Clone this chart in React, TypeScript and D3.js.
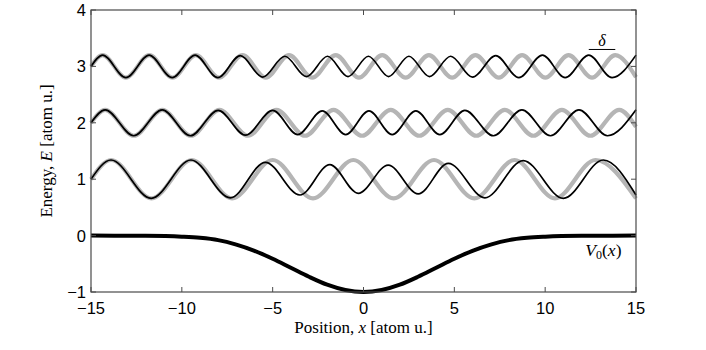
import React from 'react';
import * as d3 from 'd3';

// values
const xTicks = [-15, -10, -5, 0, 5, 10, 15];
const yTicks = [-1, 0, 1, 2, 3, 4];

// potential well V0(x)
const potX = [-15, -12, -10, -9, -8, -7, -6, -5, -4, -3, -2, -1, 0, 1, 2, 3, 4, 5, 6, 7, 8, 9, 10, 12, 15];
const potV = [0, -0.004, -0.02, -0.04, -0.08, -0.16, -0.27, -0.41, -0.57, -0.73, -0.87, -0.965, -1,
  -0.965, -0.87, -0.73, -0.57, -0.41, -0.27, -0.16, -0.08, -0.04, -0.02, -0.004, 0];

// free waves (grey): start, peaks/troughs, end
const freeX1 = [-15, -13.89, -11.67, -9.45, -7.23, -5.0, -2.78, -0.56, 1.66, 3.88, 6.1, 8.32, 10.54, 12.77, 15];
const freeY1 = [1, 1.34, 0.66, 1.34, 0.66, 1.34, 0.66, 1.34, 0.66, 1.34, 0.66, 1.34, 0.66, 1.34, 0.66];
const freeX2 = [-15, -14.22, -12.64, -11.07, -9.5, -7.93, -6.36, -4.79, -3.22, -1.65, -0.08, 1.5, 3.07, 4.64, 6.21, 7.78, 9.35, 10.92, 12.49, 14.07, 15];
const freeY2 = [2, 2.23, 1.77, 2.23, 1.77, 2.23, 1.77, 2.23, 1.77, 2.23, 1.77, 2.23, 1.77, 2.23, 1.77, 2.23, 1.77, 2.23, 1.77, 2.23, 1.93];
const freeX3 = [-15, -14.36, -13.08, -11.79, -10.51, -9.23, -7.95, -6.66, -5.38, -4.1, -2.82, -1.53, -0.25, 1.03, 2.32, 3.6, 4.88, 6.16, 7.45, 8.73, 10.01, 11.29, 12.58, 13.86, 15];
const freeY3 = [3, 3.2, 2.8, 3.2, 2.8, 3.2, 2.8, 3.2, 2.8, 3.2, 2.8, 3.2, 2.8, 3.2, 2.8, 3.2, 2.8, 3.2, 2.8, 3.2, 2.8, 3.2, 2.8, 3.2, 2.81];

// waves in the potential (black)
const waveX1 = [-15, -13.9, -11.69, -9.5, -7.33, -5.4, -3.5, -1.85, -0.29, 1.36, 3.01, 4.67, 6.68, 8.79, 11.0, 13.2, 15];
const waveY1 = [1, 1.34, 0.66, 1.34, 0.67, 1.3, 0.72, 1.26, 0.75, 1.25, 0.74, 1.28, 0.67, 1.33, 0.66, 1.34, 0.72];
const waveX2 = [-15, -14.22, -12.65, -11.08, -9.53, -8.0, -6.5, -5.0, -3.62, -2.27, -0.98, 0.3, 1.58, 2.88, 4.2, 5.58, 7.15, 8.72, 10.29, 11.86, 13.43, 15];
const waveY2 = [2, 2.23, 1.77, 2.23, 1.77, 2.22, 1.78, 2.22, 1.79, 2.21, 1.79, 2.21, 1.79, 2.21, 1.79, 2.22, 1.77, 2.23, 1.77, 2.23, 1.77, 2.23];
const waveX3 = [-15, -14.36, -13.08, -11.8, -10.53, -9.27, -8.02, -6.78, -5.55, -4.33, -3.14, -1.98, -0.85, 0.27, 1.38, 2.5, 3.63, 4.8, 6.0, 7.28, 8.55, 9.85, 11.1, 12.4, 13.68, 15];
const waveY3 = [3, 3.2, 2.8, 3.2, 2.8, 3.2, 2.8, 3.19, 2.81, 3.18, 2.82, 3.18, 2.82, 3.18, 2.82, 3.18, 2.82, 3.18, 2.81, 3.19, 2.8, 3.2, 2.8, 3.2, 2.8, 3.2];

// phase shift marker between black and grey peaks
const deltaSpan = [12.4, 13.86];
const deltaLevel = 3.3;

const zip = (xs: number[], ys: number[]) => xs.map((v, i) => [v, ys[i]] as [number, number]);

const W = 706;
const H = 350;
const left = 91, right = 636, top = 10, bottom = 292;

const sans = 'Liberation Sans, Arial, sans-serif';
const serif = 'Liberation Serif, Times New Roman, serif';

export default function App() {
  const x = d3.scaleLinear().domain([-15, 15]).range([left, right]);
  const y = d3.scaleLinear().domain([-1, 4]).range([bottom, top]);
  const line = d3.line<[number, number]>().x((d) => x(d[0])).y((d) => y(d[1])).curve(d3.curveMonotoneX);

  const free = [zip(freeX1, freeY1), zip(freeX2, freeY2), zip(freeX3, freeY3)];
  const waves = [zip(waveX1, waveY1), zip(waveX2, waveY2), zip(waveX3, waveY3)];
  const fmt = (v: number) => (v < 0 ? '\u2212' + Math.abs(v) : String(v));
  const axisColor = '#4a4a4a';
  const tl = 5;

  return (
    <svg width={W} height={H} style={{ position: 'absolute', left: 0, top: 0, background: '#fff' }}>
      {/* curves */}
      {free.map((d, i) => (
        <path key={'f' + i} d={line(d) || ''} fill="none" stroke="#b5b5b5" strokeWidth={4.2} />
      ))}
      {waves.map((d, i) => (
        <path key={'w' + i} d={line(d) || ''} fill="none" stroke="#000" strokeWidth={1.7} />
      ))}
      <path d={line(zip(potX, potV)) || ''} fill="none" stroke="#000" strokeWidth={4} />

      {/* box */}
      <rect x={left} y={top} width={right - left} height={bottom - top} fill="none" stroke={axisColor} strokeWidth={1.2} />
      {xTicks.map((t) => (
        <g key={'xt' + t}>
          <line x1={x(t)} x2={x(t)} y1={bottom} y2={bottom - tl} stroke={axisColor} />
          <line x1={x(t)} x2={x(t)} y1={top} y2={top + tl} stroke={axisColor} />
          <text x={x(t)} y={bottom + 22} textAnchor="middle" fontFamily={sans} fontSize={16.5}>{fmt(t)}</text>
        </g>
      ))}
      {yTicks.map((t) => (
        <g key={'yt' + t}>
          <line x1={left} x2={left + tl} y1={y(t)} y2={y(t)} stroke={axisColor} />
          <line x1={right} x2={right - tl} y1={y(t)} y2={y(t)} stroke={axisColor} />
          <text x={left - 5} y={y(t) + 6} textAnchor="end" fontFamily={sans} fontSize={16.5}>{fmt(t)}</text>
        </g>
      ))}

      {/* axis labels */}
      <text x={(left + right) / 2} y={bottom + 41} textAnchor="middle" fontFamily={serif} fontSize={17}>
        Position, <tspan fontStyle="italic">x</tspan> [atom u.]
      </text>
      <text transform={`translate(${52},${(top + bottom) / 2}) rotate(-90)`} textAnchor="middle" fontFamily={serif} fontSize={17}>
        Energy, <tspan fontStyle="italic">E</tspan> [atom u.]
      </text>

      {/* annotations */}
      <text x={x(14.2)} y={y(-0.37)} textAnchor="end" fontFamily={serif} fontSize={17.5}>
        <tspan fontStyle="italic">V</tspan>
        <tspan fontSize={12} dy={3}>0</tspan>
        <tspan dy={-3}>(</tspan>
        <tspan fontStyle="italic">x</tspan>
        <tspan>)</tspan>
      </text>
      <line x1={x(deltaSpan[0])} x2={x(deltaSpan[1])} y1={y(deltaLevel)} y2={y(deltaLevel)} stroke="#000" strokeWidth={1} />
      <text x={(x(deltaSpan[0]) + x(deltaSpan[1])) / 2} y={y(deltaLevel) - 3} textAnchor="middle" fontFamily={serif} fontStyle="italic" fontSize={16}>δ</text>
    </svg>
  );
}
